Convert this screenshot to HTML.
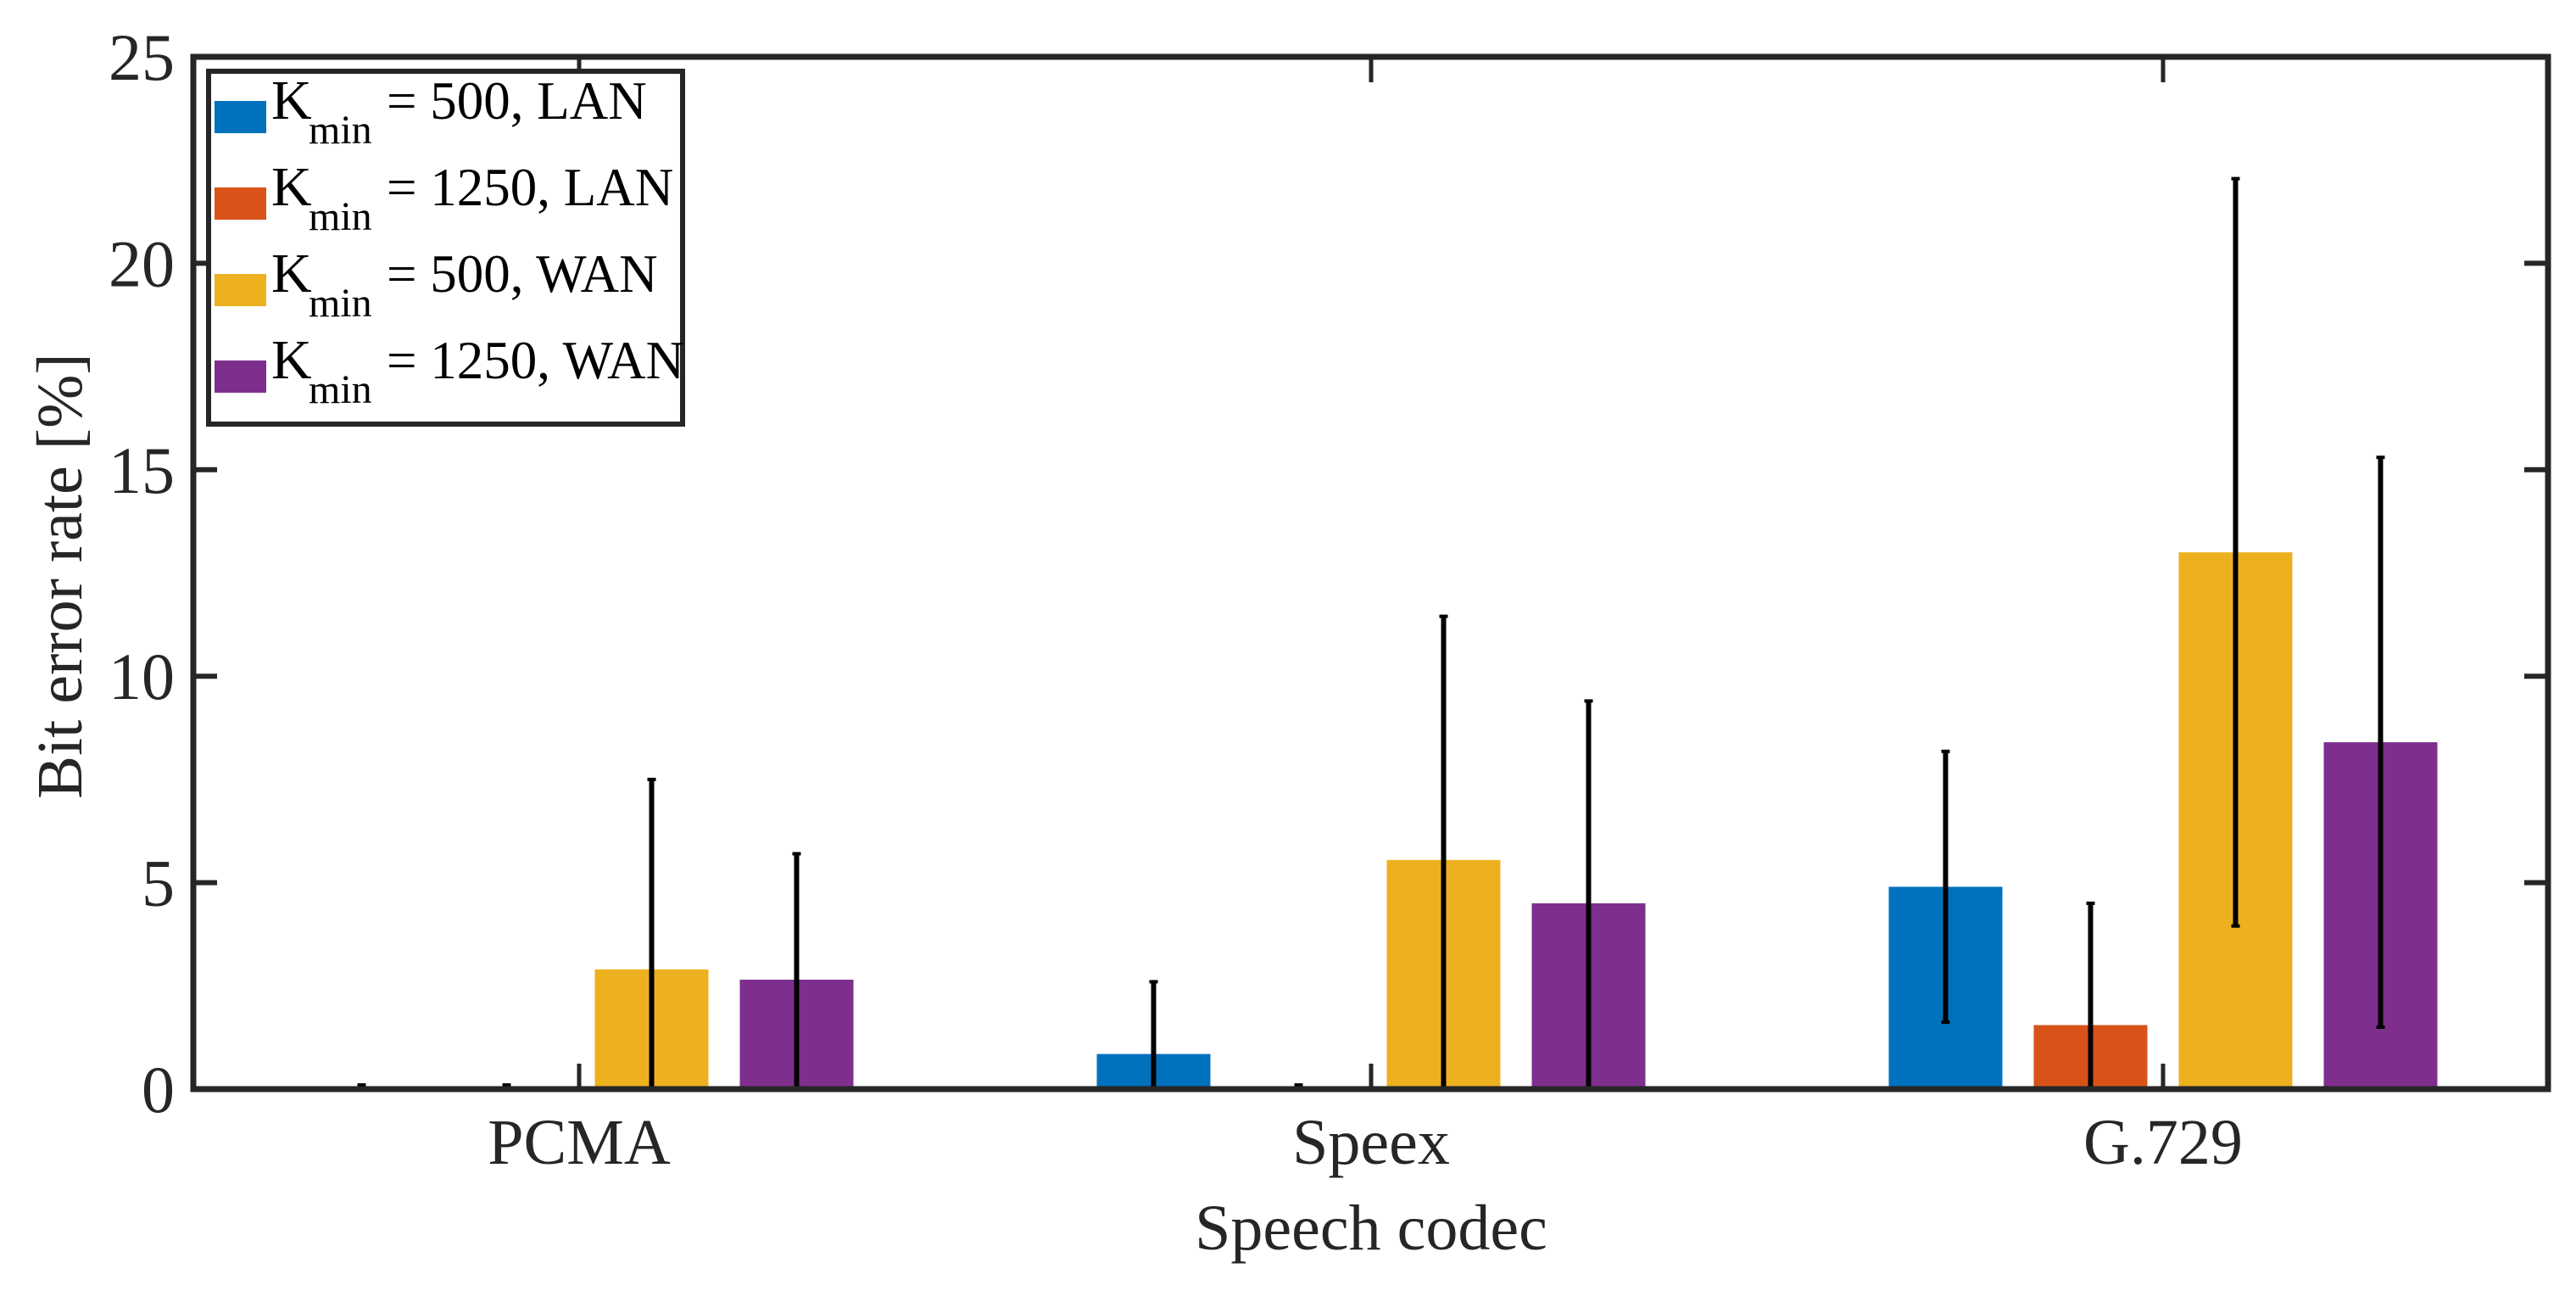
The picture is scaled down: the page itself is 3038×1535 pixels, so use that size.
<!DOCTYPE html>
<html><head><meta charset="utf-8"><style>
html,body{margin:0;padding:0;background:#fff;}
svg{display:block;font-family:"Liberation Serif",serif;}
</style></head><body>
<svg id="chart" width="3038" height="1535" viewBox="0 0 3038 1535" xmlns="http://www.w3.org/2000/svg">
<defs><clipPath id="plotclip"><rect x="228" y="67" width="2777" height="1217"/></clipPath></defs>
<rect x="0" y="0" width="3038" height="1535" fill="#fff"/>
<g id="bars" clip-path="url(#plotclip)"></g>
<g id="errs" clip-path="url(#plotclip)"></g>
<g id="axes"></g>
<text x="0" y="0" font-size="76" fill="#262626" text-anchor="middle" transform="translate(96,679) rotate(-90)">Bit error rate [%]</text>
<text x="1617" y="1473" font-size="76" fill="#262626" text-anchor="middle">Speech codec</text>
<g id="legend"></g>
</svg>
<script>
const categories = ["PCMA", "Speex", "G.729"];
const seriesNames = ["= 500, LAN", "= 1250, LAN", "= 500, WAN", "= 1250, WAN"];
const s500LAN = [0, 0.85, 4.9];
const s1250LAN = [0, 0, 1.55];
const s500WAN = [2.9, 5.55, 13.0];
const s1250WAN = [2.65, 4.5, 8.4];
const e500LAN = [0.1, 1.75, 3.28];
const e1250LAN = [0.1, 0.1, 2.95];
const e500WAN = [4.6, 5.9, 9.05];
const e1250WAN = [3.05, 4.9, 6.9];
const yTicks = [0, 5, 10, 15, 20, 25];

const values = [s500LAN, s1250LAN, s500WAN, s1250WAN];
const errors = [e500LAN, e1250LAN, e500WAN, e1250WAN];
const colors = ["#0072BD", "#D95319", "#EDB120", "#7E2F8E"];
const NS = "http://www.w3.org/2000/svg";
const L = 228, R = 3005, T = 67, B = 1284;
const yMax = 25;
function ys(v){ return B - v * (B - T) / yMax; }
const groupCenters = [683, 1617, 2551];
function xs(ci, si){ return groupCenters[ci] + (si - 1.5) * 171; }
const barW = 134;
function mk(tag, attrs, parent){
  const e = document.createElementNS(NS, tag);
  for (const k in attrs) e.setAttribute(k, attrs[k]);
  parent.appendChild(e); return e;
}
const gb = document.getElementById('bars');
const ge = document.getElementById('errs');
const ga = document.getElementById('axes');
const gl = document.getElementById('legend');

values.forEach((arr, si) => {
  arr.forEach((v, ci) => {
    const cx = xs(ci, si);
    if (v > 0) {
      const r = mk('rect', {x: cx - barW/2, y: ys(v), width: barW, height: ys(0) - ys(v), fill: colors[si]}, gb);
      
      
    }
    const e = errors[si][ci];
    const hi = v + e;
    const g = mk('g', {}, ge);
    
    
    mk('line', {x1: cx, x2: cx, y1: ys(v - e), y2: ys(hi), stroke: '#000', 'stroke-width': 6}, g);
    mk('line', {x1: cx - 5, x2: cx + 5, y1: ys(hi), y2: ys(hi), stroke: '#000', 'stroke-width': 4}, g);
    mk('line', {x1: cx - 5, x2: cx + 5, y1: ys(v - e), y2: ys(v - e), stroke: '#000', 'stroke-width': 4}, g);
  });
});

const box = mk('rect', {x: L, y: T, width: R - L, height: B - T, fill: 'none', stroke: '#262626', 'stroke-width': 7}, ga);


yTicks.forEach(t => {
  const y = ys(t);
  mk('line', {x1: L, x2: L + 28, y1: y, y2: y, stroke: '#262626', 'stroke-width': 6}, ga);
  mk('line', {x1: R, x2: R - 28, y1: y, y2: y, stroke: '#262626', 'stroke-width': 6}, ga);
  const tx = mk('text', {x: 206, y: y + 27, 'font-size': 78, fill: '#262626', 'text-anchor': 'end'}, ga);
  tx.textContent = t;
  
  
});
categories.forEach((c, ci) => {
  const x = groupCenters[ci];
  mk('line', {x1: x, x2: x, y1: B, y2: B - 30, stroke: '#262626', 'stroke-width': 5}, ga);
  mk('line', {x1: x, x2: x, y1: T, y2: T + 30, stroke: '#262626', 'stroke-width': 5}, ga);
  const tx = mk('text', {x: x, y: 1372, 'font-size': 76, fill: '#262626', 'text-anchor': 'middle'}, ga);
  tx.textContent = c;
  
  
});

const lb = mk('rect', {x: 246, y: 84, width: 559, height: 416, fill: '#fff', stroke: '#262626', 'stroke-width': 6}, gl);


seriesNames.forEach((n, si) => {
  const dy = si * 102;
  const g = mk('g', {}, gl);
  
  
  mk('rect', {x: 253, y: 119 + dy, width: 61, height: 38, fill: colors[si]}, g);
  const t = mk('text', {x: 320, y: 140 + dy, 'font-size': 66, fill: '#000'}, g);
  t.textContent = 'K';
  const s = mk('text', {x: 364, y: 169 + dy, 'font-size': 48, fill: '#000'}, g);
  s.textContent = 'min';
  const t2 = mk('text', {x: 456, y: 140 + dy, 'font-size': 63, fill: '#000'}, g);
  t2.textContent = n;
});
</script>
</body></html>
